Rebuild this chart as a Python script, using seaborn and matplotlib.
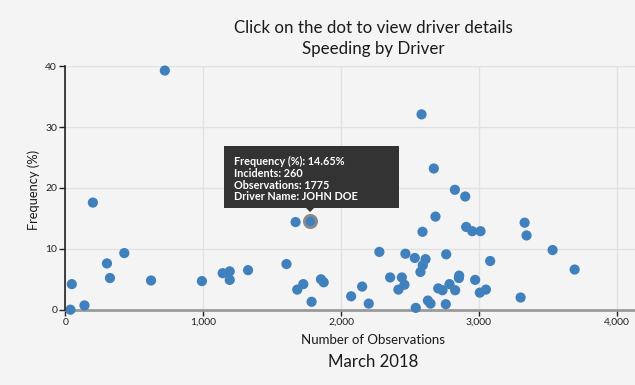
import matplotlib
matplotlib.use("Agg")
import matplotlib.pyplot as plt
import matplotlib.transforms as mtransforms
from matplotlib.patches import Rectangle, Polygon
from matplotlib.ticker import FuncFormatter
import pandas as pd
import seaborn as sns

# observations per driver and speeding frequency (%)
observations = [721, 199, 301, 427, 323, 46, 36, 138, 621, 990, 1141, 1192, 1192,
                1325, 1604, 1670, 1682, 1726, 1786, 1854, 1874,
                2584, 2673, 2826, 2901, 2685, 2591, 2908, 2952, 3012, 3332, 3346,
                3535, 3695, 3082, 2763, 2278, 2467, 2535, 2613, 2593, 2576, 2356,
                2441, 2460, 2416, 2153, 2073, 2201, 2542, 2630, 2649, 2760, 2705,
                2736, 2787, 2828, 2857, 2855, 2973, 3007, 3051, 3303]
frequency = [39.3, 17.6, 7.6, 9.3, 5.2, 4.2, 0.0, 0.7, 4.8, 4.7, 6.0, 6.3, 4.9,
             6.5, 7.5, 14.4, 3.3, 4.2, 1.3, 5.0, 4.5,
             32.1, 23.2, 19.7, 18.6, 15.3, 12.8, 13.6, 12.9, 12.9, 14.3, 12.2,
             9.8, 6.6, 8.0, 9.1, 9.5, 9.2, 8.5, 8.3, 7.3, 6.2, 5.3,
             5.3, 4.1, 3.3, 3.8, 2.2, 1.0, 0.3, 1.5, 1.0, 0.9, 3.5,
             3.2, 4.2, 3.2, 5.6, 5.2, 4.9, 2.8, 3.3, 2.0]

# the driver shown in the tooltip
sel_name = "JOHN DOE"
sel_obs = 1775
sel_incidents = 260
sel_freq = 14.65

df = pd.DataFrame({"obs": observations, "freq": frequency})

bg = "#f4f4f4"
blue = "#4081bd"
ink = "#1a1a1a"

sns.set_style("whitegrid", {"axes.facecolor": bg, "figure.facecolor": bg,
                            "grid.color": "#e1e1e1"})
plt.rcParams["font.family"] = ["Lato", "DejaVu Sans"]

fig = plt.figure(figsize=(6.35, 3.85), dpi=100)
ax = fig.add_axes([0.1031, 0.1956, 0.8969, 0.6322])

sns.scatterplot(data=df, x="obs", y="freq", ax=ax, color=blue, s=54,
                edgecolor="none", linewidth=0, clip_on=False, zorder=3)
ax.scatter([sel_obs], [sel_freq], s=78, color=blue, edgecolor="#8a8a8a",
           linewidth=2.0, clip_on=False, zorder=4)

ax.set_xlim(0, 4133)
ax.set_ylim(0, 40)
ax.set_xticks([0, 1000, 2000, 3000, 4000])
ax.set_yticks([0, 10, 20, 30, 40])
ax.xaxis.set_major_formatter(FuncFormatter(lambda v, p: f"{int(v):,}"))
ax.grid(True, linewidth=1.0)
ax.tick_params(axis="both", labelsize=7.5, colors="#222222", length=4,
               width=1, direction="out", pad=2)
ax.tick_params(axis="y", left=True)
ax.tick_params(axis="x", bottom=True)
ax.set_xlabel("")
ax.set_ylabel("")

for side in ["top", "right"]:
    ax.spines[side].set_visible(False)
ax.spines["left"].set_color("#222222")
ax.spines["left"].set_linewidth(1.2)
ax.spines["bottom"].set_color("#9a9a9a")
ax.spines["bottom"].set_linewidth(2)
ax.spines["left"].set_zorder(5)

cx = 0.5874
fig.text(cx, 0.9135, "Click on the dot to view driver details", ha="center",
         va="baseline", fontsize=12.2, color=ink)
fig.text(cx, 0.8597, "Speeding by Driver", ha="center", va="baseline",
         fontsize=12.2, color=ink)
fig.text(cx, 0.1057, "Number of Observations", ha="center", va="baseline",
         fontsize=9.5, color=ink)
fig.text(cx, 0.0475, "March 2018", ha="center", va="baseline", fontsize=12.1,
         color=ink)
fig.text(0.0535, 0.5065, "Frequency (%)", ha="center", va="center", rotation=90,
         fontsize=9.3, color=ink)

# tooltip anchored on the selected point (offsets in inches)
trans = fig.dpi_scale_trans + mtransforms.ScaledTranslation(sel_obs, sel_freq, ax.transData)
ax.add_patch(Rectangle((-0.86, 0.13), 1.75, 0.62, transform=trans,
                       facecolor="#333333", edgecolor="none", clip_on=False, zorder=6))
ax.add_patch(Polygon([(-0.045, 0.131), (0.045, 0.131), (0.0, 0.085)], closed=True,
                     transform=trans, facecolor="#333333", edgecolor="none",
                     clip_on=False, zorder=6))
tip = (f"Frequency (%): {sel_freq}%\nIncidents: {sel_incidents}\n"
       f"Observations: {sel_obs}\nDriver Name: {sel_name}")
ax.text(-0.765, 0.645, tip, transform=trans, ha="left", va="top", fontsize=7.8,
        color="white", fontweight="bold", linespacing=1.08, zorder=7, clip_on=False)

fig.savefig("out.png", dpi=100, facecolor=bg)
